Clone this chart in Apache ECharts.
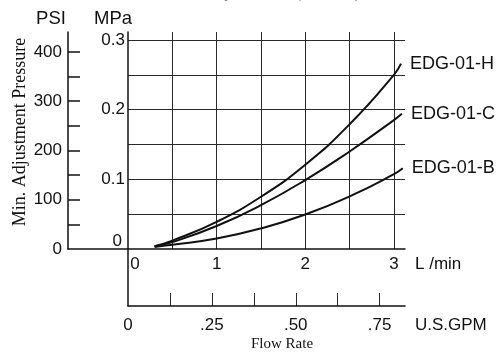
<!DOCTYPE html>
<html><head><meta charset="utf-8">
<script src="https://cdn.jsdelivr.net/npm/echarts@6/dist/echarts.min.js"></script>
<style>html,body{margin:0;padding:0;background:#fff}#c{width:502px;height:354px}</style>
</head><body><div id="c"></div>
<script>
// Flow rate (L/min) and minimum adjustment pressure (MPa)
const flowH = [0.3, 0.5, 1.0, 1.5, 2.0, 2.5, 3.0, 3.08];
const pressH = [0.004, 0.012, 0.039, 0.075, 0.121, 0.179, 0.250, 0.266];
const flowC = [0.3, 0.5, 1.0, 1.5, 2.0, 2.5, 3.0, 3.09];
const pressC = [0.004, 0.010, 0.033, 0.063, 0.099, 0.140, 0.185, 0.194];
const flowB = [0.3, 0.5, 1.0, 1.5, 2.0, 2.5, 3.0, 3.1];
const pressB = [0.003, 0.006, 0.015, 0.0295, 0.0495, 0.0755, 0.1075, 0.116];
const seriesNames = ['EDG-01-H', 'EDG-01-C', 'EDG-01-B'];

// Axis ranges / tick labels
const lminMax = 3.125;
const gpmPerL = 1 / 3.785;
const mpaMax = 0.3115;
const psiMax = 440.6;
const mpaLabels = [0.1, 0.2, 0.3];
const psiLabels = [100, 200, 300, 400];
const gpmLabels = [0.25, 0.5, 0.75];

const zip = (xs, ys) => xs.map((x, i) => [x, ys[i]]);
const sans = 'Liberation Sans';
const serif = 'Liberation Serif';
const ink = '#111';
const gridInk = '#2a2a2a';
const numSize = 17;

const chart = echarts.init(document.getElementById('c'), null, {renderer: 'canvas'});

const lineSeries = (name, data) => ({
  name, type: 'line', xAxisIndex: 0, yAxisIndex: 0, data,
  symbol: 'none', smooth: 0.5, silent: true,
  lineStyle: {color: ink, width: 2},
  endLabel: {show: true, formatter: name, distance: 9, fontSize: 18, color: ink, fontFamily: sans}
});

chart.setOption({
  animation: false,
  textStyle: {fontFamily: sans, color: ink},
  grid: [
    {left: 128, right: 97, top: 32, bottom: 105},
    {left: 68, width: 12, top: 32, bottom: 105},
    {left: 68, width: 60, top: 32, bottom: 105},
    {left: 128, right: 97, top: 293, bottom: 48},
    {left: 128, width: 10, top: 249, bottom: 48}
  ],
  xAxis: [
    {
      gridIndex: 0, type: 'value', min: 0, max: lminMax, interval: 0.5, position: 'bottom',
      axisLine: {show: true, onZero: false, lineStyle: {color: ink, width: 1.5}},
      axisTick: {show: false},
      axisLabel: {
        fontSize: numSize, color: ink, margin: 7,
        formatter: v => v === 0 ? '{z|0}' : (Math.abs(v - Math.round(v)) < 1e-9 ? String(Math.round(v)) : ''),
        rich: {z: {fontSize: numSize, color: ink, padding: [0, 0, 0, 14]}}
      },
      splitLine: {show: true, showMinLine: false, showMaxLine: false, lineStyle: {color: gridInk, width: 1}},
      name: 'L /min', nameLocation: 'end', nameGap: 10,
      nameTextStyle: {fontSize: numSize, color: ink, align: 'left', verticalAlign: 'top', padding: [7, 0, 0, 0]}
    },
    {gridIndex: 1, type: 'value', min: 0, max: 1, show: false},
    {
      gridIndex: 2, type: 'value', min: 0, max: 1,
      axisLine: {show: true, onZero: false, lineStyle: {color: ink, width: 1.5}},
      axisTick: {show: false}, axisLabel: {show: false}, splitLine: {show: false}
    },
    {
      gridIndex: 3, type: 'value', min: 0, max: lminMax * gpmPerL, interval: 0.125, position: 'bottom',
      axisLine: {show: true, onZero: false, lineStyle: {color: ink, width: 1.5}},
      axisTick: {show: false},
      axisLabel: {
        fontSize: numSize, color: ink, margin: 11,
        formatter: v => {
          if (v === 0) return '0';
          const hit = gpmLabels.find(g => Math.abs(g - v) < 1e-6);
          return hit ? '.' + Math.round(hit * 100) : '';
        }
      },
      splitLine: {show: true, showMinLine: false, showMaxLine: false, lineStyle: {color: gridInk, width: 1}},
      name: 'U.S.GPM', nameLocation: 'end', nameGap: 10,
      nameTextStyle: {fontSize: numSize, color: ink, align: 'left', verticalAlign: 'top', padding: [11, 0, 0, 0]}
    },
    {gridIndex: 4, type: 'value', min: 0, max: 1, show: false}
  ],
  yAxis: [
    {
      gridIndex: 0, type: 'value', min: 0, max: mpaMax, interval: 0.05,
      axisLine: {show: true, onZero: false, lineStyle: {color: ink, width: 1.5}},
      axisTick: {show: false},
      axisLabel: {
        fontSize: numSize, color: ink, margin: 3,
        formatter: v => {
          if (v === 0) return '{z|0}';
          const hit = mpaLabels.find(m => Math.abs(m - v) < 1e-6);
          return hit ? hit.toFixed(1) : '';
        },
        rich: {z: {fontSize: numSize, color: ink, padding: [0, 3, 16, 0]}}
      },
      splitLine: {show: true, showMinLine: false, showMaxLine: false, lineStyle: {color: gridInk, width: 1}}
    },
    {
      gridIndex: 1, type: 'value', min: 0, max: psiMax, interval: 50,
      axisLine: {show: true, onZero: false, lineStyle: {color: ink, width: 1.5}},
      axisTick: {show: false},
      axisLabel: {
        fontSize: numSize, color: ink, margin: 6,
        formatter: v => (v === 0 || psiLabels.includes(v)) ? String(v) : ''
      },
      splitLine: {show: true, showMinLine: false, showMaxLine: false, lineStyle: {color: ink, width: 1.5}}
    },
    {gridIndex: 2, type: 'value', min: 0, max: 1, show: false},
    {gridIndex: 3, type: 'value', min: 0, max: 1, show: false},
    {
      gridIndex: 4, type: 'value', min: 0, max: 1,
      axisLine: {show: true, onZero: false, lineStyle: {color: ink, width: 1.5}},
      axisTick: {show: false}, axisLabel: {show: false}, splitLine: {show: false}
    }
  ],
  graphic: [
    {type: 'text', x: 51, y: 19, style: {text: 'PSI', fontSize: 18.5, fontFamily: sans, fill: ink, align: 'center', verticalAlign: 'middle'}},
    {type: 'text', x: 113, y: 19, style: {text: 'MPa', fontSize: 18.5, fontFamily: sans, fill: ink, align: 'center', verticalAlign: 'middle'}},
    {type: 'text', x: 20, y: 132, rotation: Math.PI / 2, style: {text: 'Min. Adjustment Pressure', fontSize: 18, fontFamily: serif, fill: ink, align: 'center', verticalAlign: 'middle'}},
    {type: 'text', x: 282, y: 344, style: {text: 'Flow Rate', fontSize: 15, fontFamily: serif, fill: ink, align: 'center', verticalAlign: 'middle'}},
    {type: 'text', x: 268, y: 2, style: {text: 'Viscosity 32 mm²/s (150 SUS)', fontSize: 15, fontFamily: serif, fill: '#777', align: 'center', verticalAlign: 'bottom'}}
  ],
  series: [
    lineSeries(seriesNames[0], zip(flowH, pressH)),
    lineSeries(seriesNames[1], zip(flowC, pressC)),
    lineSeries(seriesNames[2], zip(flowB, pressB))
  ]
});
</script></body></html>
